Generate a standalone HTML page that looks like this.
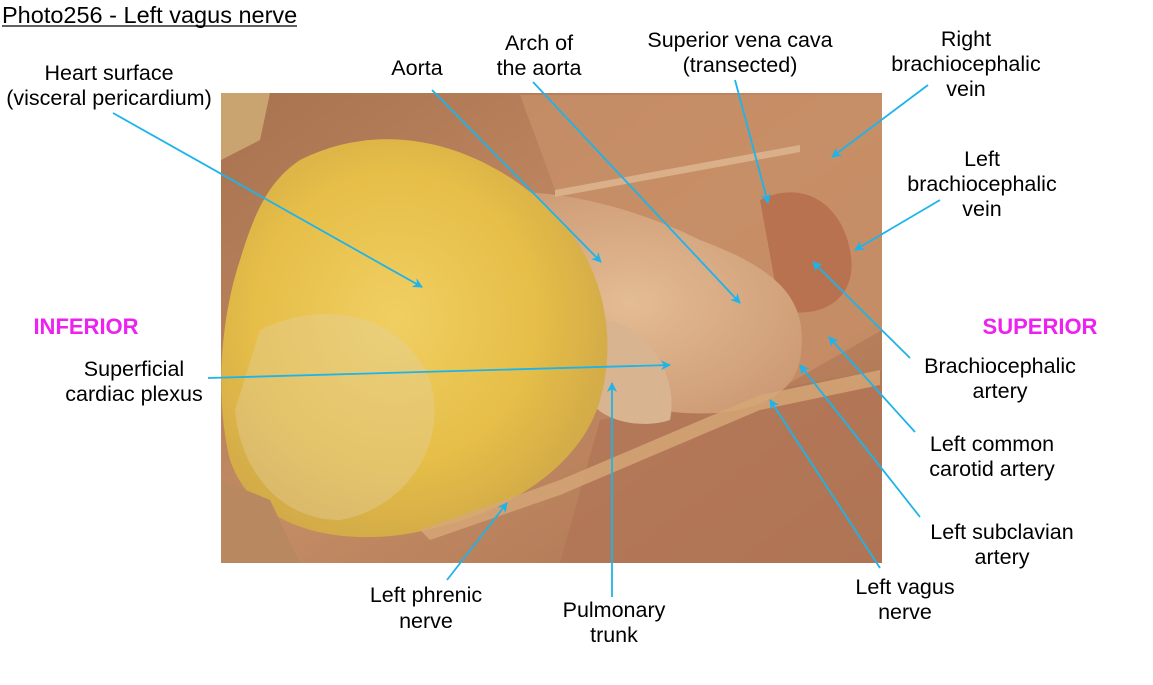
<!DOCTYPE html>
<html><head><meta charset="utf-8"><style>
html,body{margin:0;padding:0;background:#fff;}
svg{display:block;font-family:"Liberation Sans",Arial,sans-serif;}
</style></head><body>
<svg width="1153" height="685" viewBox="0 0 1153 685" xmlns="http://www.w3.org/2000/svg">
<defs>
<radialGradient id="heart" cx="0.45" cy="0.45" r="0.6">
<stop offset="0" stop-color="#f0cf62"/><stop offset="0.6" stop-color="#e6be48"/><stop offset="1" stop-color="#d0a848"/>
</radialGradient>
<linearGradient id="bg" x1="0" y1="0" x2="1" y2="1">
<stop offset="0" stop-color="#a87250"/><stop offset="0.5" stop-color="#c48c64"/><stop offset="1" stop-color="#a87050"/>
</linearGradient>
<radialGradient id="aorta" cx="0.5" cy="0.5" r="0.6">
<stop offset="0" stop-color="#e4bc94"/><stop offset="1" stop-color="#cc9a74"/>
</radialGradient>
<marker id="ah" markerWidth="10" markerHeight="10" refX="9" refY="5" orient="auto" markerUnits="userSpaceOnUse">
<path d="M0,0 L10,5 L0,10 L3,5 z" fill="#1cb4ea"/>
</marker>
</defs>
<rect x="221" y="93" width="661" height="470" fill="url(#bg)"/>
<path d="M520,95 L882,95 L882,330 L760,400 L640,420 Z" fill="#c89068" opacity="0.8"/>
<path d="M600,420 L882,370 L882,563 L560,563 Z" fill="#b27656" opacity="0.8"/>
<path d="M760,200 C800,180 840,200 850,250 C860,300 820,320 780,310 Z" fill="#b87250"/>
<path d="M460,200 C520,180 620,200 700,240 C780,270 810,300 800,360 C790,410 720,420 660,410 C600,400 560,360 520,320 Z" fill="url(#aorta)"/>
<path d="M600,320 C640,320 680,370 670,420 C640,430 600,420 590,400 Z" fill="#d8b490"/>
<path d="M300,160 C380,120 470,140 540,200 C600,250 620,330 600,400 C580,470 500,520 400,535 C320,545 250,520 230,460 C215,400 220,320 240,260 C255,210 270,180 300,160 Z" fill="url(#heart)"/>
<path d="M260,330 C320,300 400,310 430,380 C450,450 400,510 340,520 C280,520 240,470 235,410 Z" fill="#e4d0a0" opacity="0.4"/>
<path d="M221,93 L270,93 L260,140 L221,160 Z" fill="#caa470"/>
<path d="M221,480 L270,500 L300,563 L221,563 Z" fill="#b88860"/>
<path d="M420,530 L560,480 L760,395 L880,370 L880,385 L760,410 L560,495 L430,540 Z" fill="#d6a878" opacity="0.8"/>
<path d="M555,190 L800,145 L800,152 L555,197 Z" fill="#d9b08a"/>

<text x="2" y="23" font-size="23.5" fill="#000">Photo256 - Left vagus nerve</text>
<line x1="2" y1="26" x2="297" y2="26" stroke="#000" stroke-width="1.2"/>

<g font-size="21.5" fill="#000" text-anchor="middle">
<text x="109" y="80">Heart surface</text><text x="109" y="105">(visceral pericardium)</text>
<text x="417" y="75">Aorta</text>
<text x="539" y="50">Arch of</text><text x="539" y="75">the aorta</text>
<text x="740" y="47">Superior vena cava</text><text x="740" y="72">(transected)</text>
<text x="966" y="46">Right</text><text x="966" y="71">brachiocephalic</text><text x="966" y="96">vein</text>
<text x="982" y="166">Left</text><text x="982" y="191">brachiocephalic</text><text x="982" y="216">vein</text>
<text x="1000" y="373">Brachiocephalic</text><text x="1000" y="398">artery</text>
<text x="992" y="451">Left common</text><text x="992" y="476">carotid artery</text>
<text x="1002" y="539">Left subclavian</text><text x="1002" y="564">artery</text>
<text x="905" y="594">Left vagus</text><text x="905" y="619">nerve</text>
<text x="134" y="376">Superficial</text><text x="134" y="401">cardiac plexus</text>
<text x="614" y="617">Pulmonary</text><text x="614" y="642">trunk</text>
<text x="426" y="602">Left phrenic</text><text x="426" y="628">nerve</text>
</g>
<g font-size="22" font-weight="bold" fill="#ee22ee" text-anchor="middle">
<text x="86" y="334">INFERIOR</text>
<text x="1040" y="334">SUPERIOR</text>
</g>
<g stroke="#1cb4ea" stroke-width="1.8" fill="none" marker-end="url(#ah)">
<line x1="113" y1="113" x2="422" y2="287"/>
<line x1="432" y1="90" x2="601" y2="262"/>
<line x1="533" y1="82" x2="740" y2="303"/>
<line x1="735" y1="80" x2="768" y2="203"/>
<line x1="928" y1="85" x2="832" y2="157"/>
<line x1="940" y1="200" x2="855" y2="250"/>
<line x1="910" y1="358" x2="813" y2="262"/>
<line x1="915" y1="432" x2="829" y2="337"/>
<line x1="920" y1="517" x2="800" y2="365"/>
<line x1="880" y1="568" x2="770" y2="400"/>
<line x1="208" y1="378" x2="670" y2="365"/>
<line x1="612" y1="597" x2="612" y2="383"/>
<line x1="447" y1="580" x2="507" y2="503"/>
</g>
</svg>
</body></html>
